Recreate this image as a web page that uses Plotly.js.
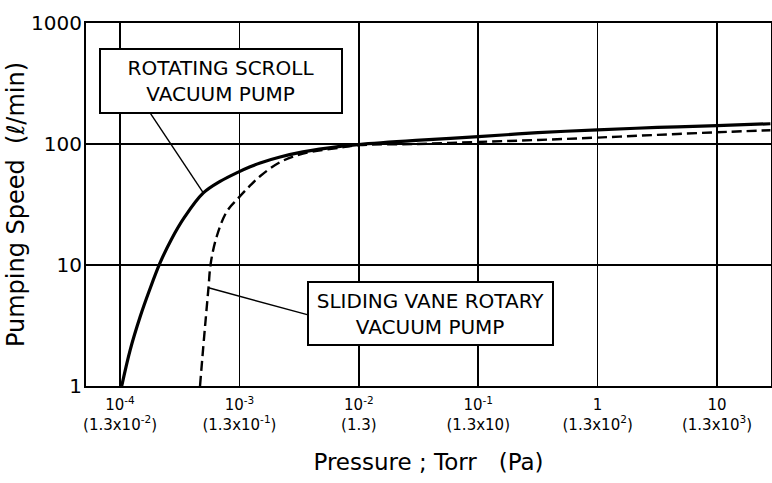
<!DOCTYPE html>
<html>
<head>
<meta charset="utf-8">
<script src="https://cdn.plot.ly/plotly-3.0.1.min.js"></script>
<style>
html,body{margin:0;padding:0;background:#fff;}
#chart{width:772px;height:483px;}
</style>
</head>
<body>
<div id="chart"></div>
<script>
// ---- Data (pressure in Torr, pumping speed in L/min) ----
const pressureScroll = [1.033e-4, 1.217e-4, 1.476e-4, 1.770e-4, 2.163e-4, 2.684e-4, 3.502e-4, 4.985e-4, 6.89e-4, 9.68e-4, 1.23e-3, 1.49e-3, 2.19e-3, 3.4e-3, 6.97e-3, 1e-2, 3e-2, 1e-1, 3.16e-1, 1, 3.16, 10, 28];
const speedScroll    = [1, 1.99, 3.75, 6.24, 10.4, 16.2, 25.2, 39.4, 49.1, 58.3, 64.8, 69.7, 78, 86, 95.5, 99, 107, 115, 124, 131, 137, 142, 147];

const pressureVane = [4.677e-4, 4.955e-4, 5.24e-4, 5.505e-4, 5.755e-4, 6.452e-4, 7.826e-4, 9.678e-4, 1.227e-3, 1.488e-3, 2.188e-3, 3.41e-3, 6.96e-3, 1e-2, 3e-2, 1e-1, 3.16e-1, 1, 3.16, 10, 28];
const speedVane    = [1, 1.99, 3.75, 6.48, 10.4, 17.2, 27.6, 35.3, 45.3, 54.1, 70.8, 83.3, 93.4, 97.9, 100, 104, 108, 113, 119, 125, 130];

const xTickVals  = [1e-4, 1e-3, 1e-2, 1e-1, 1, 10];
const xTickText  = ['10<sup>-4</sup><br>(1.3x10<sup>-2</sup>)', '10<sup>-3</sup><br>(1.3x10<sup>-1</sup>)', '10<sup>-2</sup><br>(1.3)', '10<sup>-1</sup><br>(1.3x10)', '1<br>(1.3x10<sup>2</sup>)', '10<br>(1.3x10<sup>3</sup>)'];
const yTickVals  = [1, 10, 100, 1000];
const yTickText  = ['1', '10', '100', '1000'];

const labelScroll = 'ROTATING SCROLL<br>VACUUM PUMP';
const labelVane   = 'SLIDING VANE ROTARY<br>VACUUM PUMP';

// leader lines: from label box edge to a point on each curve
const scrollLeaderFrom = {x: 1.78e-4, y: 182};
const scrollLeaderIdx = 7;
const vaneLeaderFrom = {x: 3.76e-3, y: 3.87};
const vaneLeaderIdx = 3;

const FONT = 'DejaVu Sans, Liberation Sans, Arial, sans-serif';

const traces = [
  {x: pressureScroll, y: speedScroll, type: 'scatter', mode: 'lines', name: 'Rotating scroll',
   line: {color: '#000', width: 3.2, shape: 'spline', smoothing: 1}, hoverinfo: 'x+y'},
  {x: pressureVane, y: speedVane, type: 'scatter', mode: 'lines', name: 'Sliding vane rotary',
   line: {color: '#000', width: 2.4, dash: '10px,5px', shape: 'spline', smoothing: 1}, hoverinfo: 'x+y'},
  {x: [scrollLeaderFrom.x, pressureScroll[scrollLeaderIdx]], y: [scrollLeaderFrom.y, speedScroll[scrollLeaderIdx]],
   type: 'scatter', mode: 'lines', line: {color: '#000', width: 1.4}, hoverinfo: 'skip', showlegend: false},
  {x: [vaneLeaderFrom.x, pressureVane[vaneLeaderIdx]], y: [vaneLeaderFrom.y, speedVane[vaneLeaderIdx]],
   type: 'scatter', mode: 'lines', line: {color: '#000', width: 1.4}, hoverinfo: 'skip', showlegend: false}
];

const layout = {
  width: 772, height: 483,
  margin: {l: 86, r: 1, t: 23, b: 97},
  paper_bgcolor: '#fff', plot_bgcolor: '#fff',
  showlegend: false,
  font: {family: FONT, color: '#000'},
  xaxis: {
    type: 'log', range: [-4.285, 1.452],
    tickmode: 'array', tickvals: xTickVals, ticktext: xTickText,
    ticks: '', ticklabelstandoff: 4, tickfont: {family: FONT, size: 15, color: '#000'},
    showgrid: true, gridcolor: '#000', gridwidth: 1.5,
    showline: true, linecolor: '#000', linewidth: 2, mirror: true,
    zeroline: false,
    title: {text: 'Pressure ; Torr\u00a0\u00a0\u00a0(Pa)', font: {family: FONT, size: 23, color: '#000'}, standoff: 21}
  },
  yaxis: {
    type: 'log', range: [0, 3],
    tickmode: 'array', tickvals: yTickVals, ticktext: yTickText,
    ticks: '', ticklabelstandoff: -2, tickfont: {family: FONT, size: 20, color: '#000'},
    showgrid: true, gridcolor: '#000', gridwidth: 1.5,
    showline: true, linecolor: '#000', linewidth: 2, mirror: true,
    zeroline: false,
    title: {text: 'Pumping Speed\u00a0\u00a0(\u2113/min)', font: {family: FONT, size: 24, color: '#000'}, standoff: 0}
  },
  annotations: [
    {xref: 'paper', yref: 'paper', x: 0.197, y: 0.840, xanchor: 'center', yanchor: 'middle',
     text: labelScroll, showarrow: false, align: 'center',
     font: {family: FONT, size: 20, color: '#000'},
     bgcolor: '#fff', bordercolor: '#000', borderwidth: 2, borderpad: 0, width: 240, height: 62},
    {xref: 'paper', yref: 'paper', x: 0.503, y: 0.200, xanchor: 'center', yanchor: 'middle',
     text: labelVane, showarrow: false, align: 'center',
     font: {family: FONT, size: 20, color: '#000'},
     bgcolor: '#fff', bordercolor: '#000', borderwidth: 2, borderpad: 0, width: 243, height: 61}
  ]
};

Plotly.newPlot('chart', traces, layout, {displayModeBar: false, staticPlot: true});
</script>
</body>
</html>
